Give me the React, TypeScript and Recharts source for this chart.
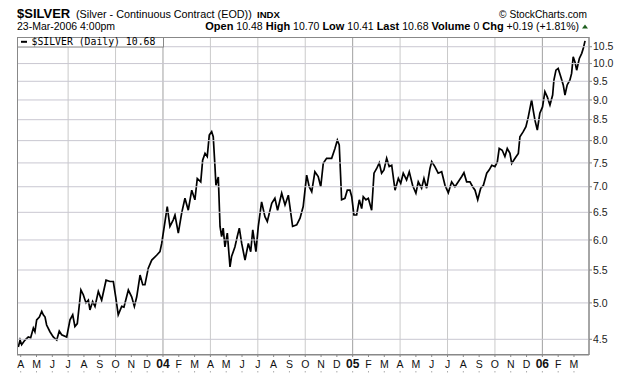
import { LineChart, Line, XAxis, YAxis, ReferenceLine } from "recharts";

const FONT = "'Liberation Sans', Arial, sans-serif";
const AXIS_GRAY = "#888888";
const GRID_H = "#c9c7d1";
const PLOT_LEFT = 17;

// x = months since 1 Apr 2003
const monthOffset = [
  -0.15, -0.04, 0.06, 0.27, 0.48, 0.63, 0.8, 0.9, 1.01, 1.18, 1.33, 1.43, 1.54, 1.64, 1.85, 2.06, 2.28, 2.44, 2.59, 2.91,
  3.12, 3.29, 3.43, 3.58, 3.81, 3.96, 4.13, 4.28, 4.38, 4.55, 4.7, 4.91, 5.12, 5.4, 5.65, 5.86, 6.01, 6.17, 6.39, 6.53,
  6.81, 7.02, 7.19, 7.34, 7.55, 7.72, 7.86, 8.07, 8.29, 8.6, 8.81, 8.92, 9.13, 9.27, 9.44, 9.65, 9.76, 9.97, 10.18, 10.39,
  10.6, 10.82, 11.02, 11.17, 11.39, 11.51, 11.66, 11.8, 11.93, 12.08, 12.18, 12.29, 12.35, 12.5, 12.61, 12.71, 12.81, 12.92, 13.07, 13.24,
  13.34, 13.55, 13.7, 13.83, 13.98, 14.19, 14.4, 14.55, 14.68, 14.88, 15.03, 15.24, 15.45, 15.6, 15.88, 16.08, 16.25, 16.51, 16.72, 16.93,
  17.03, 17.2, 17.46, 17.67, 17.87, 18.09, 18.25, 18.41, 18.61, 18.82, 18.98, 19.14, 19.35, 19.67, 19.88, 20.03, 20.15, 20.24, 20.3, 20.51,
  20.66, 20.83, 20.94, 21.08, 21.25, 21.42, 21.57, 21.67, 21.84, 21.99, 22.2, 22.35, 22.52, 22.68, 22.83, 22.98, 23.15, 23.31, 23.47, 23.68,
  23.89, 24.04, 24.2, 24.41, 24.58, 24.79, 25.0, 25.15, 25.36, 25.51, 25.68, 25.89, 26.0, 26.2, 26.41, 26.63, 26.84, 27.05, 27.26, 27.47,
  27.68, 27.9, 28.04, 28.21, 28.42, 28.59, 28.74, 28.91, 29.1, 29.27, 29.48, 29.64, 29.8, 30.0, 30.15, 30.27, 30.46, 30.63, 30.78, 30.95,
  31.06, 31.27, 31.48, 31.58, 31.79, 31.96, 32.11, 32.32, 32.42, 32.53, 32.68, 32.84, 33.01, 33.16, 33.31, 33.48, 33.65, 33.73, 33.86, 34.0,
  34.16, 34.32, 34.43, 34.57, 34.74, 34.85, 34.95, 35.06, 35.17, 35.34, 35.49, 35.59, 35.7,
];

const closes = [
  4.4, 4.49, 4.43, 4.49, 4.53, 4.52, 4.65, 4.6, 4.76, 4.8, 4.88, 4.83, 4.8, 4.69, 4.6, 4.53, 4.49, 4.61, 4.56, 4.53,
  4.76, 4.83, 4.67, 4.71, 5.19, 5.12, 5.0, 5.04, 4.9, 5.02, 4.95, 5.17, 5.04, 5.34, 5.32, 5.32, 5.09, 4.83, 4.95, 4.94,
  5.19, 5.09, 4.95, 5.09, 5.42, 5.27, 5.27, 5.53, 5.66, 5.74, 5.8, 5.94, 6.33, 6.61, 6.24, 6.36, 6.45, 6.12, 6.48, 6.77,
  6.54, 6.93, 6.74, 7.17, 7.1, 7.56, 7.71, 7.64, 8.13, 8.21, 8.09, 7.42, 7.03, 7.2, 6.24, 6.06, 6.21, 5.88, 6.12, 5.55,
  5.72, 5.88, 6.06, 6.21, 5.94, 5.66, 5.94, 5.8, 6.18, 5.8, 6.24, 6.7, 6.42, 6.33, 6.67, 6.77, 6.54, 6.87, 6.64, 6.83,
  6.61, 6.24, 6.27, 6.39, 6.61, 7.24, 7.0, 6.9, 7.31, 7.21, 7.0, 7.49, 7.6, 7.6, 7.82, 8.01, 7.9, 7.2, 6.74, 6.77,
  6.93, 6.93, 6.8, 6.45, 6.45, 6.74, 6.57, 6.8, 6.74, 6.77, 6.54, 7.28, 7.38, 7.5, 7.28, 7.35, 7.6, 7.42, 7.45, 6.93,
  7.17, 7.07, 7.28, 7.14, 7.31, 7.03, 6.87, 7.1, 6.97, 7.17, 6.97, 7.38, 7.53, 7.42, 7.28, 7.31, 7.03, 6.88, 7.1, 7.0,
  7.1, 7.21, 7.29, 7.1, 7.1, 7.0, 6.93, 6.74, 6.97, 7.03, 7.28, 7.35, 7.45, 7.42, 7.52, 7.82, 7.78, 7.64, 7.82, 7.71,
  7.49, 7.6, 7.71, 8.09, 8.21, 8.33, 8.57, 9.0, 8.74, 8.49, 8.25, 8.66, 8.82, 9.22, 9.08, 8.87, 9.13, 9.53, 9.81, 9.86,
  9.63, 9.4, 9.13, 9.4, 9.53, 9.72, 10.2, 10.05, 9.81, 10.15, 10.3, 10.45, 10.68,
];

const priceTicks = [4.5, 5.0, 5.5, 6.0, 6.5, 7.0, 7.5, 8.0, 8.5, 9.0, 9.5, 10.0, 10.5];
const monthInitials = ["J", "F", "M", "A", "M", "J", "J", "A", "S", "O", "N", "D"];
const yearLabels = ["04", "05", "06"];
const monthTicks = Array.from({ length: 36 }, (_, i) => i);

const quote = [
  ["Open", "10.48"],
  ["High", "10.70"],
  ["Low", "10.41"],
  ["Last", "10.68"],
  ["Volume", "0"],
  ["Chg", "+0.19 (+1.81%)"],
];

const series = monthOffset.map((t, i) => ({ t, close: closes[i] }));

const X_DOMAIN: [number, number] = [-0.234, 35.95];
const Y_DOMAIN: [number, number] = [4.3, 10.8];

const monthOf = (i: number) => (3 + i) % 12;

function MonthTick(props: any) {
  const { x, y, payload } = props;
  const i = payload.value as number;
  const m = monthOf(i);
  const isYear = m === 0;
  const label = isYear ? yearLabels[(i + 3) / 12 - 1] : monthInitials[m];
  return (
    <g>
      <line x1={x} x2={x} y1={y} y2={y + 2} stroke={AXIS_GRAY} />
      <text
        x={x}
        y={y + 13}
        textAnchor="middle"
        fontFamily={FONT}
        fontSize={isYear ? 12 : 10.5}
        fontWeight={isYear ? "bold" : "normal"}
        fill="#111"
      >
        {label}
      </text>
      <line x1={x} x2={x} y1={y + 16} y2={y + 17.5} stroke="#aaa" />
    </g>
  );
}

// price tick: grid line across the plot, short tick, label
function PriceTick(props: any) {
  const { x, y, payload } = props;
  const axisX = x - 4;
  return (
    <g>
      <line x1={PLOT_LEFT} x2={axisX} y1={y} y2={y} stroke={GRID_H} />
      <line x1={axisX} x2={axisX + 3} y1={y} y2={y} stroke={AXIS_GRAY} />
      <text x={x} y={y} dy="0.355em" fontFamily={FONT} fontSize={10.5} fill="#222">
        {Number(payload.value).toFixed(1)}
      </text>
    </g>
  );
}

export default function App() {
  const quarterLines = monthTicks.filter((i) => i > 0 && monthOf(i) % 3 === 0);
  const last = closes[closes.length - 1].toFixed(2);

  return (
    <div style={{ position: "absolute", left: 0, top: 0, width: 620, height: 376, background: "#fff" }}>
      <LineChart width={620} height={376} data={series} margin={{ top: 37, right: 0, bottom: 0, left: PLOT_LEFT }}>
        {quarterLines.map((i) => (
          <ReferenceLine key={"v" + i} x={i} stroke={monthOf(i) === 0 ? "#a0a0a0" : "#cacaca"} />
        ))}
        <XAxis
          dataKey="t"
          type="number"
          domain={X_DOMAIN}
          allowDataOverflow
          ticks={monthTicks}
          interval={0}
          height={21}
          tickSize={0}
          tickMargin={0}
          tickLine={false}
          axisLine={{ stroke: AXIS_GRAY }}
          tick={<MonthTick />}
        />
        <YAxis
          orientation="right"
          scale="log"
          domain={Y_DOMAIN}
          allowDataOverflow
          ticks={priceTicks}
          interval={0}
          width={31}
          tickSize={3}
          tickMargin={1}
          tickLine={false}
          axisLine={{ stroke: AXIS_GRAY }}
          tick={<PriceTick />}
        />
        <Line
          type="linear"
          dataKey="close"
          stroke="#000"
          strokeWidth={1.7}
          dot={false}
          isAnimationActive={false}
        />
      </LineChart>

      <svg width={620} height={376} style={{ position: "absolute", left: 0, top: 0, pointerEvents: "none" }}>
        {/* plot frame */}
        <rect x={17.5} y={37.5} width={571.5} height={317} fill="none" stroke={AXIS_GRAY} />

        <text x={17} y={18} fontFamily={FONT} fontSize={13} fontWeight="bold" fill="#000">
          $SILVER
        </text>
        <text x={76} y={18} fontFamily={FONT} fontSize={10.8} fill="#000">
          (Silver - Continuous Contract (EOD))
        </text>
        <text x={257} y={17.5} fontFamily={FONT} fontSize={9.6} fontWeight="bold" fill="#000">
          INDX
        </text>
        <text x={587} y={17.5} textAnchor="end" fontFamily={FONT} fontSize={10.2} fill="#000">
          © StockCharts.com
        </text>
        <text x={17} y={29.5} fontFamily={FONT} fontSize={10.5} fill="#000">
          23-Mar-2006 4:00pm
        </text>
        <text x={579} y={29.5} textAnchor="end" fontFamily={FONT} fill="#000">
          {quote.map(([k, v], i) => (
            <tspan key={k}>
              <tspan fontSize={11} fontWeight="bold">{(i ? " " : "") + k}</tspan>
              <tspan fontSize={10.5}>{" " + v}</tspan>
            </tspan>
          ))}
        </text>
        <polygon points="582,28.5 588,28.5 585,24.5" fill="#1f5f1f" />

        <rect x={17.5} y={37.5} width={146} height={9.5} fill="#fff" stroke={AXIS_GRAY} />
        <line x1={21} x2={27} y1={41.8} y2={41.8} stroke="#000" strokeWidth={2} />
        <text x={31.5} y={45.3} fontFamily="'DejaVu Sans Mono', monospace" fontSize={9.8} fill="#000">
          {`$SILVER (Daily) ${last}`}
        </text>
      </svg>
    </div>
  );
}
